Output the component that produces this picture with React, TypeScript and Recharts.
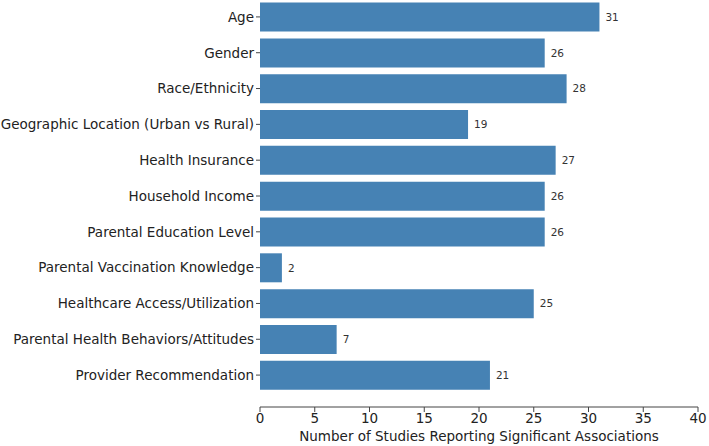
import React from "react";
import { BarChart, Bar, XAxis, YAxis, LabelList } from "recharts";

const categories = [
  "Age",
  "Gender",
  "Race/Ethnicity",
  "Geographic Location (Urban vs Rural)",
  "Health Insurance",
  "Household Income",
  "Parental Education Level",
  "Parental Vaccination Knowledge",
  "Healthcare Access/Utilization",
  "Parental Health Behaviors/Attitudes",
  "Provider Recommendation",
];
const counts = [31, 26, 28, 19, 27, 26, 26, 2, 25, 7, 21];
const xTicks = [0, 5, 10, 15, 20, 25, 30, 35, 40];
const xTitle = "Number of Studies Reporting Significant Associations";

const data = categories.map((c, i) => ({ name: c, value: counts[i] }));

const FONT = "'DejaVu Sans', sans-serif";

export default function App() {
  return (
    <div style={{ position: "absolute", left: 0, top: 0, width: 709, height: 446, background: "#fff" }}>
      <BarChart
        width={709}
        height={446}
        data={data}
        layout="vertical"
        margin={{ top: -1, right: 11, bottom: 9, left: 0 }}
        barCategoryGap="10%"
      >
        <XAxis
          type="number"
          domain={[0, 40]}
          ticks={xTicks}
          interval={0}
          height={30}
          tickSize={5}
          tickMargin={1}
          axisLine={{ stroke: "#444" }}
          tickLine={{ stroke: "#444" }}
          tick={{ fill: "#222", fontSize: 13.5, fontFamily: FONT }}
          label={{
            value: xTitle,
            position: "insideBottom",
            offset: -4,
            fill: "#222",
            fontSize: 13.5,
            fontFamily: FONT,
          }}
        />
        <YAxis
          type="category"
          dataKey="name"
          width={260}
          interval={0}
          axisLine={false}
          tickSize={4}
          tickMargin={2}
          tickLine={{ stroke: "#444" }}
          padding={{ top: 0, bottom: 14 }}
          tick={{ fill: "#222", fontSize: 13.5, fontFamily: FONT }}
        />
        <Bar dataKey="value" fill="#4682B4" isAnimationActive={false}>
          <LabelList
            dataKey="value"
            position="right"
            offset={6}
            fill="#333"
            fontSize={10.5}
            fontFamily={FONT}
          />
        </Bar>
      </BarChart>
    </div>
  );
}
